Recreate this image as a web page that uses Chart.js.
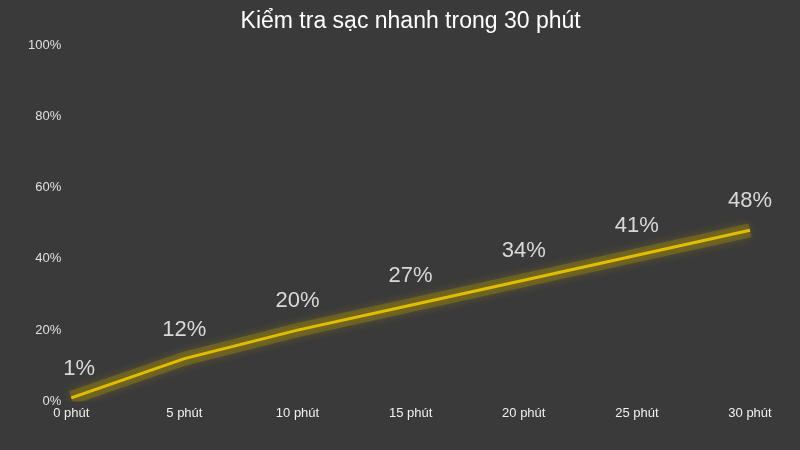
<!DOCTYPE html>
<html>
<head>
<meta charset="utf-8">
<script src="https://cdn.jsdelivr.net/npm/chart.js@4.4.1/dist/chart.umd.min.js"></script>
<style>
  html, body { margin:0; padding:0; background:#3a3a3a; }
  #wrap { width:800px; height:450px; }
</style>
</head>
<body>
<div id="wrap"><canvas id="chart"></canvas></div>
<script>
  const labels = ['0 phút','5 phút','10 phút','15 phút','20 phút','25 phút','30 phút'];
  const charge = [1, 12, 20, 27, 34, 41, 48];
  const yTicks = [0, 20, 40, 60, 80, 100];
  const title = 'Kiểm tra sạc nhanh trong 30 phút';

  const FONT = '"Liberation Sans", Arial, Helvetica, sans-serif';

  // soft glow under the main line
  const glow = {
    id: 'glow',
    beforeDatasetDraw(chart, args){
      if (args.index !== 0) return;
      const ctx = chart.ctx;
      ctx.save();
      ctx.shadowColor = 'rgba(230,195,0,0.6)';
      ctx.shadowBlur = 10;
    },
    afterDatasetDraw(chart, args){
      if (args.index !== 0) return;
      chart.ctx.restore();
    }
  };

  // title centred over the plot + value labels above each point
  const texts = {
    id: 'texts',
    afterDatasetsDraw(chart){
      const ctx = chart.ctx;
      const area = chart.chartArea;
      ctx.save();
      ctx.font = '23px ' + FONT;
      ctx.fillStyle = '#ffffff';
      ctx.textAlign = 'center';
      ctx.textBaseline = 'middle';
      ctx.fillText(title, (area.left + area.right) / 2, 22);

      const meta = chart.getDatasetMeta(1);
      ctx.font = '22px ' + FONT;
      ctx.fillStyle = '#d9d9d9';
      meta.data.forEach((pt, i)=>{
        const x = i === 0 ? pt.x + 8 : pt.x;
        ctx.fillText(charge[i] + '%', x, pt.y - 29);
      });
      ctx.restore();
    }
  };

  new Chart(document.getElementById('chart').getContext('2d'), {
    type: 'line',
    data: {
      labels: labels,
      datasets: [
        { data: charge, borderColor: 'rgba(175,150,0,0.32)', borderWidth: 14,
          borderCapStyle: 'butt', pointRadius: 0, fill: false, tension: 0 },
        { data: charge, borderColor: '#ffd300', borderWidth: 3,
          pointRadius: 0, fill: false, tension: 0 }
      ]
    },
    options: {
      responsive: true,
      maintainAspectRatio: false,
      animation: false,
      layout: { padding: { left: 18, right: 50, top: 45, bottom: 25 } },
      plugins: {
        legend: { display: false },
        tooltip: { enabled: false },
        title: { display: false }
      },
      scales: {
        x: {
          offset: false,
          grid: { display: false, drawTicks: false },
          border: { display: false },
          ticks: { color: '#f0f0f0', font: { family: FONT, size: 13 }, padding: 4, maxRotation: 0 }
        },
        y: {
          min: 0, max: 100,
          afterBuildTicks(axis){ axis.ticks = yTicks.map(v => ({ value: v })); },
          grid: { display: false, drawTicks: false },
          border: { display: false },
          ticks: { color: '#e0e0e0', font: { family: FONT, size: 13 }, padding: 10,
            callback: v => v + '%' }
        }
      }
    },
    plugins: [glow, texts]
  });
</script>
</body>
</html>
